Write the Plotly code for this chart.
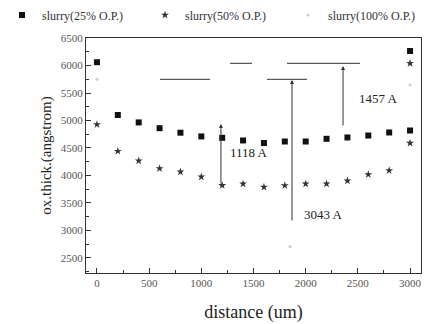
import plotly.graph_objects as go

# data
x25 = [0, 200, 400, 600, 800, 1000, 1200, 1400, 1600, 1800, 2000, 2200, 2400, 2600, 2800, 3000, 3000]
y25 = [6060, 5100, 4965, 4860, 4778, 4710, 4685, 4637, 4590, 4618, 4618, 4667, 4691, 4727, 4782, 4818, 6264]

x50 = [0, 200, 400, 600, 800, 1000, 1200, 1400, 1600, 1800, 2000, 2200, 2400, 2600, 2800, 3000, 3000]
y50 = [4927, 4442, 4267, 4127, 4067, 3976, 3820, 3848, 3790, 3818, 3848, 3848, 3903, 4018, 4091, 4588, 6040]

x100 = [0, 1850, 3000]
y100 = [5750, 2707, 5650]

# annotation elements (data coordinates)
hlines = [(1275, 1486, 6040), (1821, 2521, 6040), (604, 1083, 5749), (1629, 2013, 5749)]
arrows = [(1188, 3827, 4936), (1869, 3155, 5736), (2358, 4882, 5991)]
labels = [("1118 A", 1256, 4427), ("3043 A", 1965, 3282), ("1457 A", 2492, 5409)]

serif = "Liberation Serif"

fig = go.Figure()
fig.add_trace(go.Scatter(x=x25, y=y25, mode="markers", name="slurry(25% O.P.)", legend="legend",
                         marker=dict(symbol="square", size=6, color="#111")))
fig.add_trace(go.Scatter(x=x50, y=y50, mode="markers", name="slurry(50% O.P.)", legend="legend2",
                         marker=dict(symbol="star", size=6, color="#333")))
fig.add_trace(go.Scatter(x=x100, y=y100, mode="markers", name="slurry(100% O.P.)", legend="legend3",
                         marker=dict(symbol="circle", size=3, color="#ccc")))

for x0, x1, y in hlines:
    fig.add_shape(type="line", x0=x0, x1=x1, y0=y, y1=y, xref="x", yref="y",
                  line=dict(color="#333", width=1))

for x, y0, y1 in arrows:
    fig.add_annotation(x=x, y=y1, ax=x, ay=y0, xref="x", yref="y", axref="x", ayref="y",
                       text="", showarrow=True, arrowhead=2, arrowsize=0.8, arrowwidth=1,
                       arrowcolor="#333")

for t, x, y in labels:
    fig.add_annotation(x=x, y=y, text=t, showarrow=False, xanchor="left", yanchor="middle",
                       font=dict(family=serif, size=13, color="#222"))

# plot area: left 86, width 335, top 38, height 235 (pixels)
def lx(px):
    return (px - 86) / 335

leg = dict(xref="paper", yref="paper", xanchor="left", yanchor="middle",
           y=1 + (38 - 15) / 235, bgcolor="rgba(0,0,0,0)",
           font=dict(family=serif, size=12, color="#333"), itemwidth=30)

fig.update_layout(
    width=447, height=324,
    margin=dict(l=86, r=26, t=38, b=51, autoexpand=False),
    paper_bgcolor="white", plot_bgcolor="white",
    font=dict(family=serif, color="#333"),
    legend=dict(leg, x=lx(2)),
    legend2=dict(leg, x=lx(145)),
    legend3=dict(leg, x=lx(288)),
    showlegend=True,
)
fig.update_xaxes(range=[-105, 3105], tickvals=[0, 500, 1000, 1500, 2000, 2500, 3000],
                 ticks="inside", ticklen=5, tickcolor="#333",
                 minor=dict(ticks="inside", ticklen=3, dtick=250, tickcolor="#333"),
                 showline=True, linecolor="#333", linewidth=1, mirror=True,
                 showgrid=False, zeroline=False,
                 tickfont=dict(family=serif, size=11, color="#555"),
                 title=dict(text="distance (um)", font=dict(family=serif, size=18, color="#222"),
                            standoff=17))
fig.update_yaxes(range=[2227, 6500], tickvals=[2500, 3000, 3500, 4000, 4500, 5000, 5500, 6000, 6500],
                 ticks="inside", ticklen=5, tickcolor="#333",
                 minor=dict(ticks="inside", ticklen=3, dtick=250, tickcolor="#333"),
                 showline=True, linecolor="#333", linewidth=1, mirror=True,
                 showgrid=False, zeroline=False,
                 tickfont=dict(family=serif, size=11, color="#555"),
                 title=dict(text="ox.thick.(angstrom)", font=dict(family=serif, size=15, color="#222"),
                            standoff=5))

fig.write_html("out.html")
